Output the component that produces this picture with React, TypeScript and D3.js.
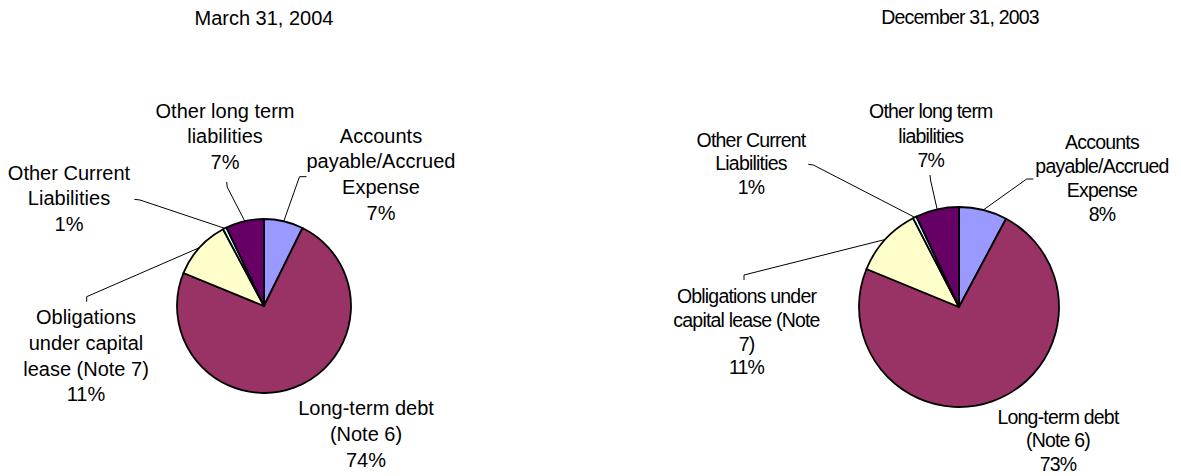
import React from "react";
import * as d3 from "d3";

const categories = [
  "Accounts payable/Accrued Expense",
  "Long-term debt (Note 6)",
  "Obligations under capital lease (Note 7)",
  "Other Current Liabilities",
  "Other long term liabilities",
];
const mar2004Values = [7.3, 73.9, 11.0, 0.7, 7.1];
const dec2003Values = [7.8, 73.4, 11.2, 0.6, 7.0];
const sliceColors = ["#9999FF", "#993366", "#FFFFCC", "#CCFFFF", "#660066"];
const chartTitles = ["March 31, 2004", "December 31, 2003"];

const leftLabelLines = [
  ["Accounts", "payable/Accrued", "Expense"],
  ["Long-term debt", "(Note 6)"],
  ["Obligations", "under capital", "lease (Note 7)"],
  ["Other Current", "Liabilities"],
  ["Other long term", "liabilities"],
];
const rightLabelLines = [
  ["Accounts", "payable/Accrued", "Expense"],
  ["Long-term debt", "(Note 6)"],
  ["Obligations under", "capital lease (Note", "7)"],
  ["Other Current", "Liabilities"],
  ["Other long term", "liabilities"],
];

type Layout = {
  cx: number;
  cy: number;
  r: number;
  titleX: number;
  titleY: number;
  lh: number[];
  fontSize: number;
  letterSpacing: number;
  labels: { x: number; y: number; leader: [number, number][] | null }[];
};

const leftLayout: Layout = {
  cx: 264,
  cy: 306,
  r: 87,
  titleX: 264,
  titleY: 25,
  lh: [25.7, 26.2, 25.8, 25.4, 25.7],
  fontSize: 20,
  letterSpacing: 0,
  labels: [
    { x: 381, y: 142.7, leader: [[306.5, 176.7], [299.5, 176.7]] },
    { x: 366, y: 414.5, leader: null },
    { x: 86, y: 324, leader: [[86.7, 301.7], [86.7, 296.7]] },
    { x: 69, y: 180, leader: [[134.3, 199.3], [140, 200]] },
    { x: 225, y: 117.5, leader: [[226.7, 182], [227.2, 187]] },
  ],
};

const rightLayout: Layout = {
  cx: 959,
  cy: 307,
  r: 100,
  titleX: 960,
  titleY: 24,
  lh: [24, 23.8, 23.6, 23.7, 24.2],
  fontSize: 19.5,
  letterSpacing: -0.8,
  labels: [
    { x: 1102, y: 149.3, leader: [[1033.3, 179], [1026.7, 179]] },
    { x: 1058, y: 423.5, leader: null },
    { x: 746.5, y: 303.3, leader: [[744, 280], [744, 275]] },
    { x: 751, y: 146.7, leader: [[808.3, 164.3], [813.3, 165]] },
    { x: 930.8, y: 118.3, leader: [[930, 175], [930.5, 180]] },
  ],
};

function PieChart({
  values,
  lines,
  title,
  layout,
}: {
  values: number[];
  lines: string[][];
  title: string;
  layout: Layout;
}) {
  const pie = d3.pie<number>().sort(null).value((d) => d);
  const arcs = pie(values);
  const arcGen = d3.arc<d3.PieArcDatum<number>>().innerRadius(0).outerRadius(layout.r);
  const edgeGen = d3.arc<d3.PieArcDatum<number>>().innerRadius(layout.r).outerRadius(layout.r);
  const font = "'Liberation Sans', Arial, Helvetica, sans-serif";
  return (
    <g>
      <text
        x={layout.titleX}
        y={layout.titleY}
        textAnchor="middle"
        fontFamily={font}
        fontSize={layout.fontSize}
        letterSpacing={layout.letterSpacing}
        fill="#000"
      >
        {title}
      </text>
      {arcs.map((a, i) => {
        const lab = layout.labels[i];
        if (!lab.leader) return null;
        const [ex, ey] = edgeGen.centroid(a);
        const pts = [...lab.leader, [layout.cx + ex, layout.cy + ey]];
        return (
          <polyline
            key={"l" + i}
            points={pts.map((p) => p.join(",")).join(" ")}
            fill="none"
            stroke="#000"
            strokeWidth={1}
          />
        );
      })}
      <g transform={`translate(${layout.cx},${layout.cy})`}>
        {arcs.map((a, i) => (
          <path
            key={"s" + i}
            d={arcGen(a) || ""}
            fill={sliceColors[i]}
            stroke="#000"
            strokeWidth={1.8}
            strokeLinejoin="round"
          />
        ))}
      </g>
      {arcs.map((a, i) => {
        const lab = layout.labels[i];
        const allLines = [...lines[i], `${Math.round(values[i])}%`];
        return (
          <text
            key={"t" + i}
            textAnchor="middle"
            fontFamily={font}
            fontSize={layout.fontSize}
            letterSpacing={layout.letterSpacing}
            fill="#000"
          >
            {allLines.map((ln, j) => (
              <tspan key={j} x={lab.x} y={lab.y + j * layout.lh[i]}>
                {ln}
              </tspan>
            ))}
          </text>
        );
      })}
    </g>
  );
}

export default function App() {
  return (
    <svg
      width={1181}
      height={476}
      style={{ position: "absolute", left: 0, top: 0, background: "#fff" }}
    >
      <rect width={1181} height={476} fill="#fff" />
      <PieChart values={mar2004Values} lines={leftLabelLines} title={chartTitles[0]} layout={leftLayout} />
      <PieChart values={dec2003Values} lines={rightLabelLines} title={chartTitles[1]} layout={rightLayout} />
    </svg>
  );
}
